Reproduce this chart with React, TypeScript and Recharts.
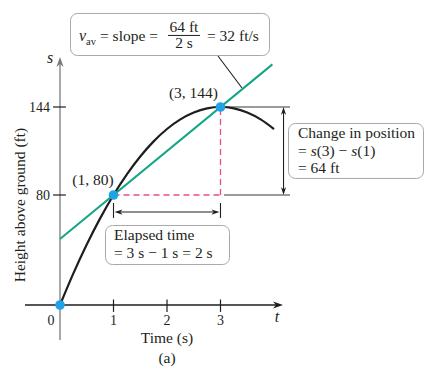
import React from 'react';
import {
  ComposedChart,
  XAxis,
  YAxis,
  Line,
  Scatter,
  ReferenceLine,
  ReferenceDot,
  ReferenceArea,
} from 'recharts';

// ---------- data ----------
const curveT = [0, 0.25, 0.5, 0.75, 1, 1.25, 1.5, 1.75, 2, 2.25, 2.5, 2.75, 3, 3.25, 3.5, 3.75, 4];
const curveS = [0, 23, 44, 63, 80, 95, 108, 119, 128, 135, 140, 143, 144, 143, 140, 135, 128];
const secantT = [0, 3.97];
const secantS = [48, 175];
const pointT = [0, 1, 3];
const pointS = [0, 80, 144];
const pointLabels = ['(1, 80)', '(3, 144)'];
const xTicks = [1, 2, 3];
const xTickLabels = ['1', '2', '3'];
const yTicks = [80, 144];
const yTickLabels = ['80', '144'];
const xAxisTitle = 'Time (s)';
const yAxisTitle = 'Height above ground (ft)';
const caption = '(a)';

// ---------- layout / style ----------
const W = 434;
const H = 373;
const X_DOMAIN: [number, number] = [-1.1215, 6.9907];
const Y_DOMAIN: [number, number] = [-49.45, 221.82];
const FONT = '"Liberation Serif", "Times New Roman", serif';
const GREEN = '#12a586';
const BLUE = '#1fa3e6';
const PINK = '#ea4f7d';
const DARK = '#1e1e1e';
const GRAY = '#7a7a7a';
const BOX = '#a8a8a8';

const curveData = curveT.map((t, i) => ({ t, s: curveS[i] }));
const secantData = secantT.map((t, i) => ({ t, s: secantS[i] }));
const pointData = pointT.map((t, i) => ({ t, s: pointS[i] }));

type ArrowOpts = { start?: boolean; end?: boolean; color: string; width: number; head?: number; half?: number; notch?: boolean };

const arrowShape = (o: ArrowOpts) => (p: any) => {
  const { x1, y1, x2, y2 } = p;
  const head = o.head ?? 8;
  const half = o.half ?? 3.2;
  const dx = x2 - x1;
  const dy = y2 - y1;
  const len = Math.hypot(dx, dy) || 1;
  const ux = dx / len;
  const uy = dy / len;
  const px = -uy;
  const py = ux;
  const heads: React.ReactNode[] = [];
  let sx = x1, sy = y1, ex = x2, ey = y2;
  const mk = (tx: number, ty: number, dirx: number, diry: number, key: string) => {
    const bx = tx - dirx * head;
    const by = ty - diry * head;
    const nx = tx - dirx * head * (o.notch ? 0.7 : 1);
    const ny = ty - diry * head * (o.notch ? 0.7 : 1);
    const pts = [
      `${tx},${ty}`,
      `${bx + px * half},${by + py * half}`,
      `${nx},${ny}`,
      `${bx - px * half},${by - py * half}`,
    ].join(' ');
    return <polygon key={key} points={pts} fill={o.color} stroke="none" />;
  };
  if (o.end) {
    heads.push(mk(x2, y2, ux, uy, 'e'));
    ex = x2 - ux * head * 0.6;
    ey = y2 - uy * head * 0.6;
  }
  if (o.start) {
    heads.push(mk(x1, y1, -ux, -uy, 's'));
    sx = x1 + ux * head * 0.6;
    sy = y1 + uy * head * 0.6;
  }
  return (
    <g>
      <line x1={sx} y1={sy} x2={ex} y2={ey} stroke={o.color} strokeWidth={o.width} />
      {heads}
    </g>
  );
};

const textShape = (
  text: React.ReactNode,
  opts: { anchor?: 'start' | 'middle' | 'end'; size?: number; italic?: boolean; baseline?: string; rotate?: number; color?: string }
) => (p: any) => (
  <text
    x={p.cx}
    y={p.cy}
    textAnchor={opts.anchor ?? 'middle'}
    fontFamily={FONT}
    fontSize={opts.size ?? 15}
    fontStyle={opts.italic ? 'italic' : 'normal'}
    dominantBaseline={opts.baseline ?? 'alphabetic'}
    fill={opts.color ?? '#231f20'}
    transform={opts.rotate ? `rotate(${opts.rotate} ${p.cx} ${p.cy})` : undefined}
  >
    {text}
  </text>
);

const boxRect = (p: any) => (
  <rect x={p.x + 0.5} y={p.y + 0.5} width={p.width} height={p.height} rx={7} ry={7} fill="#fff" stroke={BOX} strokeWidth={1} />
);

const topBox = (p: any) => {
  const x = p.x;
  const y = p.y;
  const c = '#231f20';
  return (
    <g fontFamily={FONT} fill={c}>
      {boxRect(p)}
      <text x={x + 9} y={y + 28} fontSize={16} fontStyle="italic">v</text>
      <text x={x + 16} y={y + 32} fontSize={10.5}>av</text>
      <text x={x + 30} y={y + 28} fontSize={15.5}>= slope =</text>
      <text x={x + 114} y={y + 19} fontSize={15.5} textAnchor="middle">64 ft</text>
      <line x1={x + 98} x2={x + 130} y1={y + 22.5} y2={y + 22.5} stroke={c} strokeWidth={1} />
      <text x={x + 114} y={y + 35.5} fontSize={15.5} textAnchor="middle">2 s</text>
      <text x={x + 137} y={y + 28} fontSize={15.5}>= 32 ft/s</text>
    </g>
  );
};

const rightBox = (p: any) => {
  const x = p.x + 10;
  const y = p.y;
  return (
    <g fontFamily={FONT} fill="#231f20">
      {boxRect(p)}
      <text x={x} y={y + 15.5} fontSize={15.5}>Change in position</text>
      <text x={x} y={y + 33} fontSize={15.5}>
        = <tspan fontStyle="italic">s</tspan>(3) − <tspan fontStyle="italic">s</tspan>(1)
      </text>
      <text x={x} y={y + 50} fontSize={15.5}>= 64 ft</text>
    </g>
  );
};

const bottomBox = (p: any) => {
  const x = p.x + 9;
  const y = p.y;
  return (
    <g fontFamily={FONT} fill="#231f20">
      {boxRect(p)}
      <text x={x} y={y + 15.5} fontSize={15.5}>Elapsed time</text>
      <text x={x} y={y + 33} fontSize={15.5}>= 3 s − 1 s = 2 s</text>
    </g>
  );
};

const dotShape = (p: any) => <circle cx={p.cx} cy={p.cy} r={4.8} fill={BLUE} />;

export default function App() {
  return (
    <div style={{ position: 'absolute', left: 0, top: 0, width: W, height: H, background: '#fff' }}>
      <ComposedChart width={W} height={H} margin={{ top: 0, right: 0, bottom: 0, left: 0 }}>
        <XAxis dataKey="t" type="number" domain={X_DOMAIN} allowDataOverflow hide />
        <YAxis dataKey="s" type="number" domain={Y_DOMAIN} allowDataOverflow hide />

        {/* axes */}
        <ReferenceLine segment={[{ x: 0, y: -25.45 }, { x: 0, y: 180.4 }]} shape={arrowShape({ end: true, color: GRAY, width: 1.3, head: 10, half: 3.6, notch: true })} />
        <ReferenceLine segment={[{ x: -0.654, y: 0 }, { x: 4.168, y: 0 }]} shape={arrowShape({ end: true, color: DARK, width: 1.3, head: 10, half: 3.6, notch: true })} />
        {yTicks.map((v) => (
          <ReferenceLine key={`yt${v}`} segment={[{ x: -0.13, y: v }, { x: 0.11, y: v }]} stroke={DARK} strokeWidth={1.2} />
        ))}
        {xTicks.map((v) => (
          <ReferenceLine key={`xt${v}`} segment={[{ x: v, y: 4 }, { x: v, y: -5 }]} stroke={DARK} strokeWidth={1.2} />
        ))}

        {/* change in position guides */}
        <ReferenceLine segment={[{ x: 3, y: 144 }, { x: 4.299, y: 144 }]} stroke={GRAY} strokeWidth={1.3} />
        <ReferenceLine segment={[{ x: 3.065, y: 80 }, { x: 4.299, y: 80 }]} stroke={GRAY} strokeWidth={1.3} />
        <ReferenceLine segment={[{ x: 4.178, y: 144 }, { x: 4.178, y: 80 }]} shape={arrowShape({ start: true, end: true, color: DARK, width: 1.1, head: 8, half: 2.6, notch: true })} />

        {/* elapsed time guides */}
        <ReferenceLine segment={[{ x: 1, y: 74.2 }, { x: 1, y: 63.3 }]} stroke={DARK} strokeWidth={1.1} />
        <ReferenceLine segment={[{ x: 3, y: 74.2 }, { x: 3, y: 63.3 }]} stroke={DARK} strokeWidth={1.1} />
        <ReferenceLine segment={[{ x: 1.02, y: 67.6 }, { x: 2.98, y: 67.6 }]} shape={arrowShape({ start: true, end: true, color: DARK, width: 1.1, head: 8, half: 2.6, notch: true })} />

        {/* pink dashed */}
        <ReferenceLine segment={[{ x: 1, y: 80 }, { x: 3, y: 80 }]} stroke={PINK} strokeWidth={1.3} strokeDasharray="6 4" />
        <ReferenceLine segment={[{ x: 3, y: 80 }, { x: 3, y: 144 }]} stroke={PINK} strokeWidth={1.3} strokeDasharray="6 4" />

        {/* pointer from top box */}
        <ReferenceLine segment={[{ x: 2.953, y: 181.1 }, { x: 3.402, y: 157.8 }]} stroke={DARK} strokeWidth={1.1} />

        {/* series */}
        <Line data={secantData} dataKey="s" type="linear" stroke={GREEN} strokeWidth={2} dot={false} activeDot={false} isAnimationActive={false} />
        <Line data={curveData} dataKey="s" type="monotone" stroke={DARK} strokeWidth={2.2} dot={false} activeDot={false} isAnimationActive={false} />
        <Scatter data={pointData} dataKey="s" shape={dotShape} isAnimationActive={false} />

        {/* callout boxes */}
        <ReferenceArea x1={0.187} x2={3.907} y1={181.8} y2={212.4} shape={topBox} />
        <ReferenceArea x1={4.262} x2={6.785} y1={92.4} y2={132.4} shape={rightBox} />
        <ReferenceArea x1={0.841} x2={3.159} y1={29.8} y2={58.2} shape={bottomBox} />

        {/* point labels */}
        <ReferenceDot x={0.617} y={87.3} r={0} shape={textShape(pointLabels[0], { size: 15.5 })} />
        <ReferenceDot x={2.495} y={150.5} r={0} shape={textShape(pointLabels[1], { size: 15.5 })} />

        {/* tick labels */}
        {yTicks.map((v, i) => (
          <ReferenceDot key={`yl${v}`} x={-0.187} y={v} r={0} shape={textShape(yTickLabels[i], { anchor: 'end', size: 14, baseline: 'central' })} />
        ))}
        {xTicks.map((v, i) => (
          <ReferenceDot key={`xl${v}`} x={v} y={-14.5} r={0} shape={textShape(xTickLabels[i], { size: 14 })} />
        ))}
        <ReferenceDot x={-0.168} y={-14.5} r={0} shape={textShape('0', { size: 14 })} />
        <ReferenceDot x={4.056} y={-12.4} r={0} shape={textShape('t', { italic: true, size: 16 })} />
        <ReferenceDot x={-0.187} y={176} r={0} shape={textShape('s', { italic: true, size: 16 })} />

        {/* axis titles */}
        <ReferenceDot x={2} y={-27.6} r={0} shape={textShape(xAxisTitle, { size: 15.5 })} />
        <ReferenceDot x={2} y={-42.2} r={0} shape={textShape(caption, { size: 15.5 })} />
        <ReferenceDot x={-0.748} y={72.7} r={0} shape={textShape(yAxisTitle, { rotate: -90, baseline: 'central', size: 15.5 })} />
      </ComposedChart>
    </div>
  );
}
